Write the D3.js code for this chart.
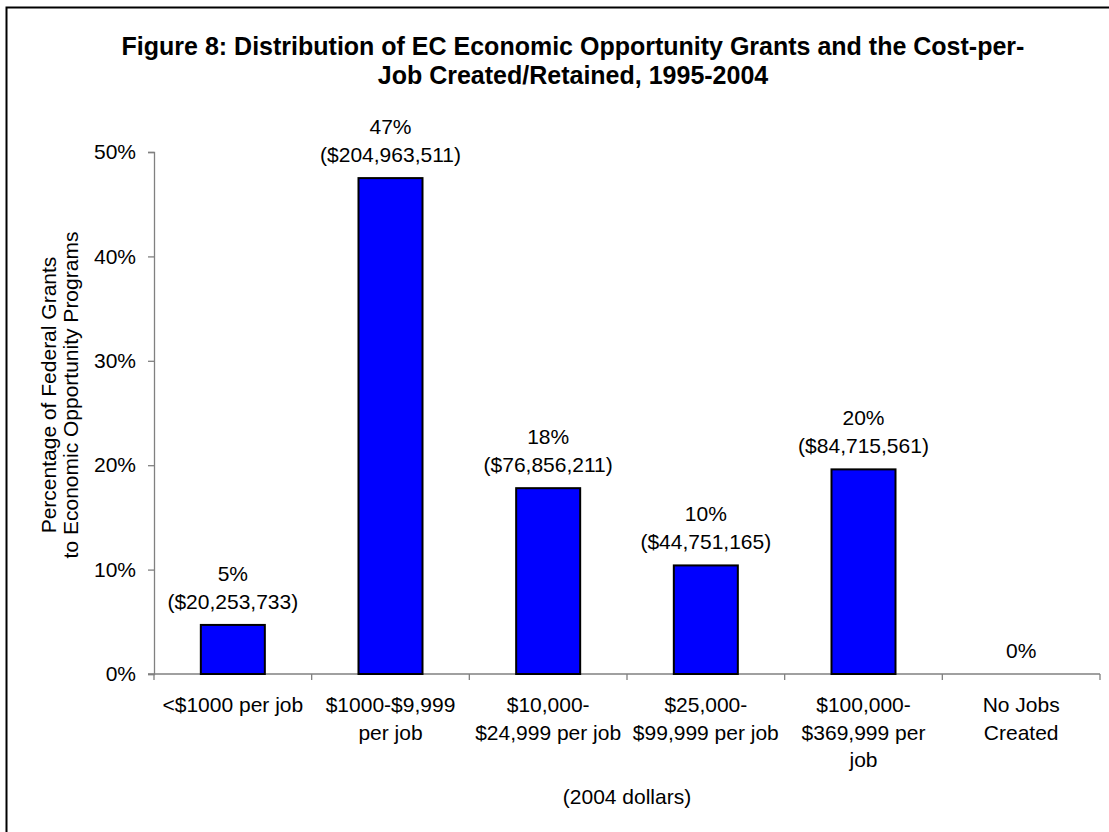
<!DOCTYPE html>
<html>
<head>
<meta charset="utf-8">
<script src="https://cdn.jsdelivr.net/npm/d3@7"></script>
<style>
  html, body { margin: 0; padding: 0; background: #fff; }
  svg { display: block; }
  text { font-family: "Liberation Sans", Arial, sans-serif; fill: #000; }
</style>
</head>
<body>
<svg id="chart" width="1109" height="832"></svg>
<script>
// ---- data ----
const categories = [
  ["<$1000 per job"],
  ["$1000-$9,999", "per job"],
  ["$10,000-", "$24,999 per job"],
  ["$25,000-", "$99,999 per job"],
  ["$100,000-", "$369,999 per", "job"],
  ["No Jobs", "Created"]
];
const shares = [4.7, 47.5, 17.8, 10.4, 19.6, 0];
const shareLabels = ["5%", "47%", "18%", "10%", "20%", "0%"];
const dollarLabels = ["($20,253,733)", "($204,963,511)", "($76,856,211)", "($44,751,165)", "($84,715,561)", ""];
const yTicks = [0, 10, 20, 30, 40, 50];
const titleLines = ["Figure 8: Distribution of EC Economic Opportunity Grants and the Cost-per-", "Job Created/Retained, 1995-2004"];
const yTitleLines = ["Percentage of Federal Grants", "to Economic Opportunity Programs"];
const xTitle = "(2004 dollars)";

// ---- layout ----
const svg = d3.select("#chart");
const plot = { left: 154, right: 1100, top: 152, bottom: 674 };
const fs = "21px";

// outer frame (only left/top edges visible in the reference)
svg.append("rect")
  .attr("x", 6.5).attr("y", 7.5)
  .attr("width", 1300).attr("height", 1000)
  .attr("fill", "none").attr("stroke", "#000").attr("stroke-width", 2);

const idx = d3.range(categories.length);
const x = d3.scaleBand().domain(idx).range([plot.left, plot.right])
  .paddingInner(0.594).paddingOuter(0.297);
const y = d3.scaleLinear().domain([0, 50]).range([plot.bottom, plot.top]);

// title
svg.append("g").selectAll("text").data(titleLines).join("text")
  .attr("x", 573).attr("y", (d, i) => 55 + i * 29)
  .attr("text-anchor", "middle")
  .style("font-size", "25px").style("font-weight", "bold")
  .text(d => d);

// y axis
const yAxis = d3.axisLeft(y).tickValues(yTicks).tickFormat(d => d + "%")
  .tickSize(6).tickPadding(12);
const gy = svg.append("g").attr("transform", `translate(${plot.left},0)`).call(yAxis);
gy.select(".domain").attr("stroke", "#808080").attr("stroke-width", 1.3);
gy.selectAll(".tick line").attr("stroke", "#808080").attr("stroke-width", 1.3);
gy.selectAll(".tick text").style("font-size", fs).style("font-family", "Liberation Sans, Arial, sans-serif").attr("fill", "#000");

// x axis baseline with category boundary ticks
const boundaries = idx.map(i => x(i) - x.step() * x.paddingOuter()).concat([plot.right]);
svg.append("line")
  .attr("x1", plot.left - 6).attr("x2", plot.right)
  .attr("y1", y(0)).attr("y2", y(0))
  .attr("stroke", "#808080").attr("stroke-width", 1.3);
svg.append("g").selectAll("line").data(boundaries).join("line")
  .attr("x1", d => d).attr("x2", d => d)
  .attr("y1", y(0)).attr("y2", y(0) + 6)
  .attr("stroke", "#808080").attr("stroke-width", 1.3);

// bars
svg.append("g").selectAll("rect").data(idx.filter(i => shares[i] > 0)).join("rect")
  .attr("x", i => x(i))
  .attr("y", i => y(shares[i]))
  .attr("width", x.bandwidth())
  .attr("height", i => y(0) - y(shares[i]))
  .attr("fill", "#0000ff").attr("stroke", "#000").attr("stroke-width", 2);

// value labels
const lab = svg.append("g").selectAll("g").data(idx).join("g")
  .attr("transform", i => `translate(${x(i) + x.bandwidth() / 2},${y(shares[i])})`);
lab.append("text")
  .attr("text-anchor", "middle")
  .attr("y", i => dollarLabels[i] ? -44 : -16)
  .style("font-size", fs)
  .text(i => shareLabels[i]);
lab.append("text")
  .attr("text-anchor", "middle")
  .attr("y", -16)
  .style("font-size", fs)
  .text(i => dollarLabels[i]);

// category labels
const cat = svg.append("g").selectAll("text").data(idx).join("text")
  .attr("text-anchor", "middle")
  .attr("transform", i => `translate(${x(i) + x.bandwidth() / 2},${y(0) + 38})`)
  .style("font-size", fs);
cat.selectAll("tspan").data(i => categories[i]).join("tspan")
  .attr("x", 0).attr("dy", (d, j) => j === 0 ? 0 : 27.5)
  .text(d => d);

// x title
svg.append("text").attr("x", (plot.left + plot.right) / 2).attr("y", 804)
  .attr("text-anchor", "middle").style("font-size", fs).text(xTitle);

// y title
svg.append("g").selectAll("text").data(yTitleLines).join("text")
  .attr("transform", (d, i) => `translate(${56 + i * 22},395) rotate(-90)`)
  .attr("text-anchor", "middle").style("font-size", fs)
  .text(d => d);
</script>
</body>
</html>
